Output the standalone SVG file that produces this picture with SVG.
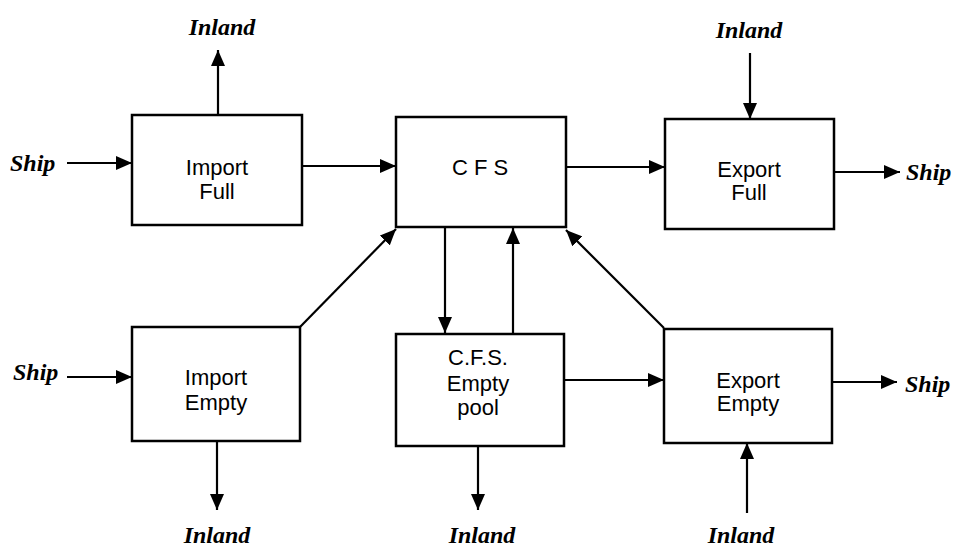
<svg xmlns="http://www.w3.org/2000/svg" width="958" height="549" viewBox="0 0 958 549">
<style>
.box{fill:#fff;stroke:#000;stroke-width:2.5}
.lbl{font-family:"Liberation Sans",Arial,sans-serif;font-size:22px;text-anchor:middle;fill:#000}
.ext{font-family:"Liberation Serif","Times New Roman",serif;font-size:24px;font-weight:bold;font-style:italic;fill:#000}
.c{text-anchor:middle}
.conn line{stroke:#000;stroke-width:2.2;marker-end:url(#ah)}
</style>
<defs>
<marker id="ah" markerUnits="userSpaceOnUse" viewBox="0 0 16 14" markerWidth="16" markerHeight="14" refX="16" refY="7" orient="auto">
<path d="M0,0 L16,7 L0,14 z" fill="#000"/>
</marker>
</defs>
<rect width="958" height="549" fill="#fff"/>
<g id="import-full"><rect class="box" x="132" y="115" width="170" height="110"/><text class="lbl" x="217" y="175">Import</text><text class="lbl" x="217" y="199">Full</text></g>
<g id="cfs"><rect class="box" x="396" y="117" width="170" height="110"/><text class="lbl" x="480" y="175">C F S</text></g>
<g id="export-full"><rect class="box" x="665" y="119" width="169" height="110"/><text class="lbl" x="749" y="177">Export</text><text class="lbl" x="749" y="200">Full</text></g>
<g id="import-empty"><rect class="box" x="132" y="327" width="168" height="114"/><text class="lbl" x="216" y="385">Import</text><text class="lbl" x="216" y="410">Empty</text></g>
<g id="cfs-empty-pool"><rect class="box" x="396" y="334" width="168" height="112"/><text class="lbl" x="478" y="365">C.F.S.</text><text class="lbl" x="478" y="391">Empty</text><text class="lbl" x="478" y="415">pool</text></g>
<g id="export-empty"><rect class="box" x="664" y="329" width="168" height="114"/><text class="lbl" x="748" y="388">Export</text><text class="lbl" x="748" y="411">Empty</text></g>
<g id="ship-in-top"><text class="ext" x="10" y="171">Ship</text></g>
<g id="inland-top-left"><text class="ext c" x="222" y="35">Inland</text></g>
<g id="inland-top-right"><text class="ext c" x="749" y="38">Inland</text></g>
<g id="ship-out-top"><text class="ext" x="906" y="180">Ship</text></g>
<g id="ship-in-bottom"><text class="ext" x="13" y="380">Ship</text></g>
<g id="ship-out-bottom"><text class="ext" x="905" y="392">Ship</text></g>
<g id="inland-bottom-left"><text class="ext c" x="217" y="543">Inland</text></g>
<g id="inland-bottom-mid"><text class="ext c" x="482" y="543">Inland</text></g>
<g id="inland-bottom-right"><text class="ext c" x="741" y="543">Inland</text></g>
<g id="connectors" class="conn">
<line x1="67" y1="163" x2="132" y2="163"/>
<line x1="218" y1="115" x2="218" y2="50"/>
<line x1="302" y1="166" x2="396" y2="166"/>
<line x1="566" y1="167" x2="665" y2="167"/>
<line x1="750" y1="53" x2="750" y2="119"/>
<line x1="834" y1="172" x2="900" y2="172"/>
<line x1="300" y1="327" x2="396" y2="229"/>
<line x1="445" y1="227" x2="445" y2="333"/>
<line x1="513" y1="334" x2="513" y2="228"/>
<line x1="664" y1="328" x2="566" y2="230"/>
<line x1="67" y1="377" x2="132" y2="377"/>
<line x1="217" y1="441" x2="217" y2="510"/>
<line x1="478" y1="446" x2="478" y2="510"/>
<line x1="564" y1="380" x2="664" y2="380"/>
<line x1="832" y1="382" x2="897" y2="382"/>
<line x1="747" y1="513" x2="747" y2="443"/>
</g>
</svg>
